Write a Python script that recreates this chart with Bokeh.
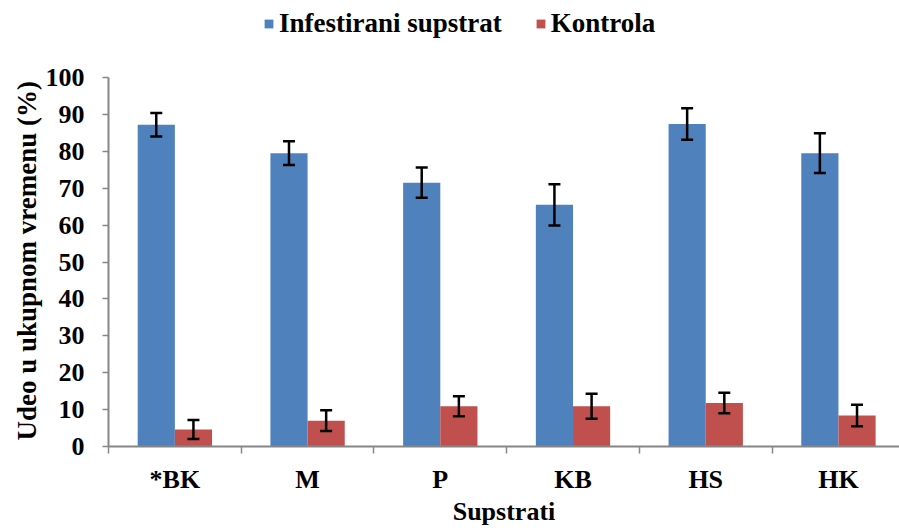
from bokeh.plotting import figure
from bokeh.models import ColumnDataSource, FixedTicker, Whisker, TeeHead, Range1d, Title
from bokeh.embed import file_html
from bokeh.resources import INLINE

categories = ["*BK", "M", "P", "KB", "HS", "HK"]
infestirani = [87.2, 79.5, 71.5, 65.5, 87.4, 79.5]
infestirani_err = [3.2, 3.2, 4.1, 5.6, 4.3, 5.4]
kontrola = [4.6, 7.0, 10.9, 10.9, 11.8, 8.4]
kontrola_err = [2.6, 2.8, 2.7, 3.4, 2.8, 2.9]
y_ticks = [0, 10, 20, 30, 40, 50, 60, 70, 80, 90, 100]

BLUE = "#4F81BD"
RED = "#C0504D"
AXIS = "#868686"
FONT = "Liberation Serif"
FS = "26px"

n = len(categories)
centers = [i + 0.5 for i in range(n)]
off = 0.14
bw = 0.28

src_b = ColumnDataSource(dict(
    x=[c - off for c in centers], top=infestirani,
    upper=[v + e for v, e in zip(infestirani, infestirani_err)],
    lower=[v - e for v, e in zip(infestirani, infestirani_err)]))
src_r = ColumnDataSource(dict(
    x=[c + off for c in centers], top=kontrola,
    upper=[v + e for v, e in zip(kontrola, kontrola_err)],
    lower=[v - e for v, e in zip(kontrola, kontrola_err)]))

# frame spans the full top area; the axis itself is bounded at 0..100
p = figure(width=899, height=528, output_backend="svg", toolbar_location=None,
           x_range=Range1d(0, 5.96), y_range=Range1d(0, 120.87),
           min_border_left=108, min_border_top=0, min_border_right=0, min_border_bottom=82)
p.outline_line_color = None
p.xgrid.visible = False
p.ygrid.visible = False

p.vbar(x="x", top="top", width=bw, source=src_b, fill_color=BLUE, line_color=None,
       legend_label="Infestirani supstrat")
p.vbar(x="x", top="top", width=bw, source=src_r, fill_color=RED, line_color=None,
       legend_label="Kontrola")

for src in (src_b, src_r):
    w = Whisker(source=src, base="x", upper="upper", lower="lower",
                line_color="black", line_width=2.5, level="overlay",
                upper_head=TeeHead(size=12, line_width=2.5, line_color="black"),
                lower_head=TeeHead(size=12, line_width=2.5, line_color="black"))
    p.add_layout(w)

# x axis
xa = p.xaxis[0]
xa.ticker = FixedTicker(ticks=centers, minor_ticks=list(range(n + 1)))
xa.major_label_overrides = {c: lab for c, lab in zip(centers, categories)}
xa.major_tick_line_color = None
xa.major_tick_out = 0
xa.major_tick_in = 0
xa.minor_tick_line_color = AXIS
xa.minor_tick_line_width = 1.5
xa.minor_tick_out = 7
xa.minor_tick_in = 0
xa.axis_line_color = AXIS
xa.axis_line_width = 2
xa.major_label_text_font = FONT
xa.major_label_text_font_style = "bold"
xa.major_label_text_font_size = FS
xa.major_label_text_color = "black"
xa.major_label_standoff = 11
xa.axis_label = "Supstrati"
xa.axis_label_text_font = FONT
xa.axis_label_text_font_style = "bold"
xa.axis_label_text_font_size = FS
xa.axis_label_text_color = "black"
xa.axis_label_standoff = 0

# y axis
ya = p.yaxis[0]
ya.ticker = FixedTicker(ticks=y_ticks)
ya.bounds = (0, 100)
ya.minor_tick_line_color = None
ya.major_tick_line_color = AXIS
ya.major_tick_line_width = 1.5
ya.major_tick_out = 6
ya.major_tick_in = 0
ya.axis_line_color = AXIS
ya.axis_line_width = 2
ya.major_label_text_font = FONT
ya.major_label_text_font_style = "bold"
ya.major_label_text_font_size = FS
ya.major_label_text_color = "black"
ya.major_label_standoff = 18

# y-axis title as a side title, anchored at the bottom of the axis
ytitle = Title(text="Udeo u ukupnom  vremenu (%)", align="left", offset=6,
               text_font=FONT, text_font_style="bold", text_font_size="27px",
               text_color="black", standoff=2)
p.add_layout(ytitle, "left")

leg = p.legend[0]
leg.orientation = "horizontal"
leg.location = (155, 407)
leg.border_line_color = None
leg.background_fill_alpha = 0
leg.padding = 0
leg.margin = 0
leg.spacing = 33
leg.glyph_width = 11
leg.glyph_height = 11
leg.label_standoff = 5
leg.label_text_font = FONT
leg.label_text_font_style = "bold"
leg.label_text_font_size = "27px"
leg.label_text_color = "black"

open("out.html", "w").write(file_html(p, INLINE))
